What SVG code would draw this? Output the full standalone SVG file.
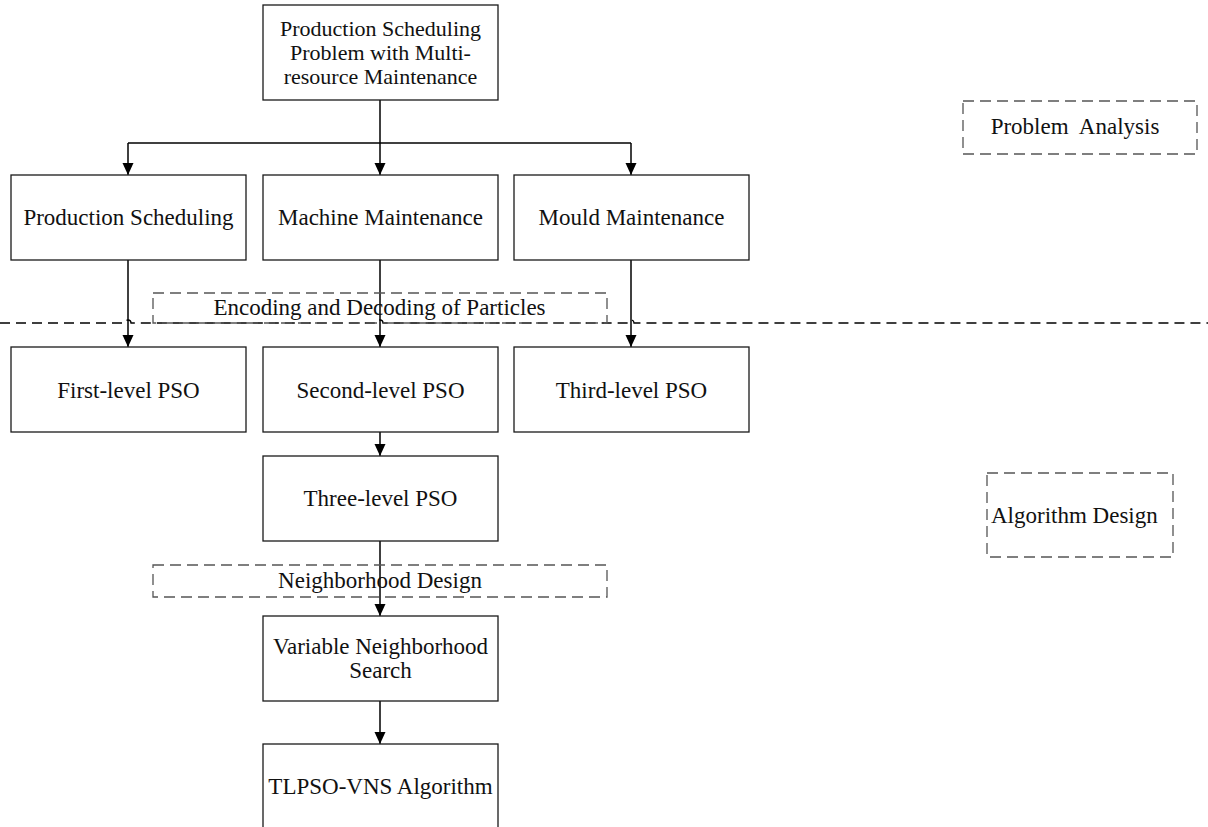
<svg xmlns="http://www.w3.org/2000/svg" width="1208" height="827" viewBox="0 0 1208 827">
<style>
.box{fill:#fff;stroke:#1a1a1a;stroke-width:1.3}
.dbox{fill:none;stroke:#555;stroke-width:1.3;stroke-dasharray:11 6}
.t{font-family:"Liberation Serif","Times New Roman",serif;font-size:23px;fill:#111;text-anchor:middle}
.t2{font-size:22px}
.c{fill:none;stroke:#000;stroke-width:1.5}
</style>
<defs>
<marker id="ah" viewBox="0 0 10 12" refX="12" refY="6" markerWidth="12" markerHeight="12" markerUnits="userSpaceOnUse" orient="auto">
<path d="M0,0.5 L12,6 L0,11.5 Z" fill="#000"/>
</marker>
</defs>
<rect width="1208" height="827" fill="#fff"/>
<g id="sep">
<path d="M0,323 H125 A3,3 0 0 1 131,323 H377 A3,3 0 0 1 383,323 H628 A3,3 0 0 1 634,323 H1208" fill="none" stroke="#000" stroke-width="1.3" stroke-dasharray="10 6"/>
</g>
<g id="connectors">
<path class="c" d="M380,100 V143"/>
<path class="c" d="M128,143 H631"/>
<path class="c" d="M128,143 V175" marker-end="url(#ah)"/>
<path class="c" d="M380,143 V175" marker-end="url(#ah)"/>
<path class="c" d="M631,143 V175" marker-end="url(#ah)"/>
<path class="c" d="M128,260 V347" marker-end="url(#ah)"/>
<path class="c" d="M380,260 V347" marker-end="url(#ah)"/>
<path class="c" d="M631,260 V347" marker-end="url(#ah)"/>
<path class="c" d="M380,432 V456" marker-end="url(#ah)"/>
<path class="c" d="M380,541 V616" marker-end="url(#ah)"/>
<path class="c" d="M380,701 V744" marker-end="url(#ah)"/>
</g>
<g id="n-top">
<rect class="box" x="263" y="5" width="235" height="95"/>
<text class="t t2" x="380.5" y="35.5">Production Scheduling</text>
<text class="t t2" x="380.5" y="59.5">Problem with Multi-</text>
<text class="t t2" x="380.5" y="83.5">resource Maintenance</text>
</g>
<g id="n-ps">
<rect class="box" x="11" y="175" width="235" height="85"/>
<text class="t" x="128.5" y="225">Production Scheduling</text>
</g>
<g id="n-mm">
<rect class="box" x="263" y="175" width="235" height="85"/>
<text class="t" x="380.5" y="225">Machine Maintenance</text>
</g>
<g id="n-md">
<rect class="box" x="514" y="175" width="235" height="85"/>
<text class="t" x="631.5" y="225">Mould Maintenance</text>
</g>
<g id="n-enc">
<rect class="dbox" x="153" y="293" width="454" height="30"/>
<text class="t" x="379.5" y="315">Encoding and Decoding of Particles</text>
</g>
<g id="n-pso1">
<rect class="box" x="11" y="347" width="235" height="85"/>
<text class="t" x="128.5" y="398">First-level PSO</text>
</g>
<g id="n-pso2">
<rect class="box" x="263" y="347" width="235" height="85"/>
<text class="t" x="380.5" y="398">Second-level PSO</text>
</g>
<g id="n-pso3">
<rect class="box" x="514" y="347" width="235" height="85"/>
<text class="t" x="631.5" y="398">Third-level PSO</text>
</g>
<g id="n-tlpso">
<rect class="box" x="263" y="456" width="235" height="85"/>
<text class="t" x="380.5" y="506">Three-level PSO</text>
</g>
<g id="n-nd">
<rect class="dbox" x="153" y="565" width="454" height="32"/>
<text class="t" x="380" y="588">Neighborhood Design</text>
</g>
<g id="n-vns">
<rect class="box" x="263" y="616" width="235" height="85"/>
<text class="t" x="380.5" y="653.5">Variable Neighborhood</text>
<text class="t" x="380.5" y="677.5">Search</text>
</g>
<g id="n-alg">
<rect class="box" x="263" y="744" width="235" height="86"/>
<text class="t" x="380.5" y="793.5">TLPSO-VNS Algorithm</text>
</g>
<g id="n-pa">
<rect class="dbox" x="963" y="101" width="234" height="53"/>
<text class="t" x="1075" y="133.5" xml:space="preserve">Problem  Analysis</text>
</g>
<g id="n-ad">
<rect class="dbox" x="987" y="473" width="186" height="84"/>
<text class="t" x="991" y="523" style="text-anchor:start">Algorithm Design</text>
</g>
</svg>
